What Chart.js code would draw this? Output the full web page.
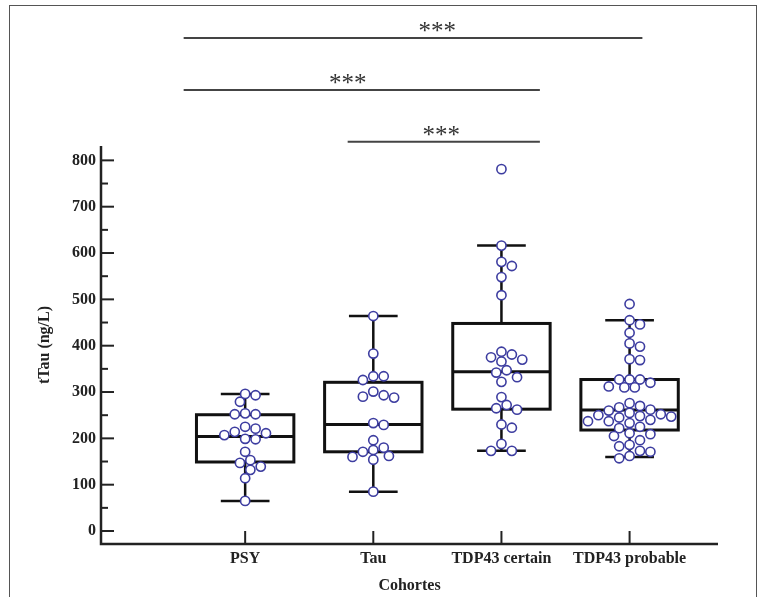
<!DOCTYPE html>
<html>
<head>
<meta charset="utf-8">
<script src="https://cdn.jsdelivr.net/npm/chart.js@4.4.0/dist/chart.umd.min.js"></script>
<style>
  html, body { margin: 0; padding: 0; background: #fff; }
  #wrap { position: relative; width: 769px; height: 597px; overflow: hidden; }
  #frame { position: absolute; left: 9px; top: 5px; width: 746px; height: 640px; border: 1.5px solid #555; }
  #boxChart { position: absolute; left: 0; top: 0; }
</style>
</head>
<body>
<div id="wrap">
  <div id="frame"></div>
  <canvas id="boxChart" width="769" height="597"></canvas>
</div>
<script>
const categories = ['PSY', 'Tau', 'TDP43 certain', 'TDP43 probable'];

const psyValues = [296, 293, 279, 254, 252, 252, 225, 221, 214, 211, 207, 199, 198, 171, 153, 147, 139, 132, 114, 65];
const tauValues = [464, 383, 334, 334, 326, 301, 293, 290, 288, 233, 229, 196, 180, 175, 171, 162, 160, 154, 85];
const tdpCertainValues = [781, 616, 581, 572, 548, 509, 387, 381, 375, 370, 366, 347, 342, 332, 322, 289, 272, 265, 262, 230, 223, 188, 173, 173];
const tdpProbableValues = [490, 455, 446, 428, 405, 398, 371, 369, 327, 327, 327, 320, 312, 310, 310, 276, 270, 267, 262, 260, 255, 252, 250, 248, 247, 245, 240, 237, 237, 233, 225, 222, 211, 209, 205, 196, 186, 183, 173, 171, 162, 157];

// box statistics per cohort
const whiskerLow = [65, 85, 173, 160];
const quartile1 = [149, 171, 263, 218];
const medians = [204, 230, 344, 261];
const quartile3 = [251, 321, 448, 327];
const whiskerHigh = [296, 464, 616, 455];

const yTickValues = [0, 100, 200, 300, 400, 500, 600, 700, 800];
const yMinorTicks = [50, 150, 250, 350, 450, 550, 650, 750];

// significance brackets (x in cohort units, level in ng/L)
const bracketFrom = [0.52, 0.52, 1.8];
const bracketTo = [4.1, 3.3, 3.3];
const bracketStarX = [2.5, 1.8, 2.53];
const bracketLevel = [1064, 952, 840];
const bracketLabels = ['***', '***', '***'];

const groups = [psyValues, tauValues, tdpCertainValues, tdpProbableValues];

const BOX_HALF = 0.38;
const CAP_HALF = 0.19;
const AXIS_COLOR = '#222';
const fontFamily = "'Liberation Serif', 'Times New Roman', serif";

const boxPlugin = {
  id: 'boxes',
  beforeDatasetsDraw(chart) {
    const {ctx, chartArea, scales: {x, y}} = chart;
    ctx.save();

    // axes lines
    ctx.strokeStyle = AXIS_COLOR;
    ctx.lineWidth = 2.5;
    ctx.beginPath();
    ctx.moveTo(chartArea.left, chartArea.top);
    ctx.lineTo(chartArea.left, chartArea.bottom);
    ctx.lineTo(chartArea.right, chartArea.bottom);
    ctx.stroke();

    // tick marks pointing inward
    ctx.lineWidth = 2;
    yTickValues.forEach(v => {
      const py = y.getPixelForValue(v);
      ctx.beginPath();
      ctx.moveTo(chartArea.left, py);
      ctx.lineTo(chartArea.left + 13, py);
      ctx.stroke();
    });
    yMinorTicks.forEach(v => {
      const py = y.getPixelForValue(v);
      ctx.beginPath();
      ctx.moveTo(chartArea.left, py);
      ctx.lineTo(chartArea.left + 7, py);
      ctx.stroke();
    });
    categories.forEach((c, i) => {
      const px = x.getPixelForValue(i + 1);
      ctx.beginPath();
      ctx.moveTo(px, chartArea.bottom);
      ctx.lineTo(px, chartArea.bottom - 13);
      ctx.stroke();
    });

    // boxes and whiskers
    ctx.strokeStyle = '#111';
    categories.forEach((c, i) => {
      const cx = x.getPixelForValue(i + 1);
      const half = x.getPixelForValue(i + 1 + BOX_HALF) - cx;
      const cap = x.getPixelForValue(i + 1 + CAP_HALF) - cx;
      const yLo = y.getPixelForValue(whiskerLow[i]);
      const yQ1 = y.getPixelForValue(quartile1[i]);
      const yMed = y.getPixelForValue(medians[i]);
      const yQ3 = y.getPixelForValue(quartile3[i]);
      const yHi = y.getPixelForValue(whiskerHigh[i]);

      ctx.lineWidth = 2.5;
      ctx.beginPath();
      ctx.moveTo(cx, yQ1); ctx.lineTo(cx, yLo);
      ctx.moveTo(cx - cap, yLo); ctx.lineTo(cx + cap, yLo);
      ctx.moveTo(cx, yQ3); ctx.lineTo(cx, yHi);
      ctx.moveTo(cx - cap, yHi); ctx.lineTo(cx + cap, yHi);
      ctx.stroke();

      ctx.lineWidth = 3;
      ctx.strokeRect(cx - half, yQ3, half * 2, yQ1 - yQ3);
      ctx.beginPath();
      ctx.moveTo(cx - half, yMed); ctx.lineTo(cx + half, yMed);
      ctx.stroke();
    });
    ctx.restore();
  },
  afterDraw(chart) {
    const {ctx, scales: {x, y}} = chart;
    ctx.save();
    ctx.strokeStyle = '#444';
    ctx.lineWidth = 2;
    ctx.fillStyle = '#333';
    ctx.font = '25px ' + fontFamily;
    ctx.textAlign = 'center';
    ctx.textBaseline = 'alphabetic';
    bracketLevel.forEach((lvl, i) => {
      const py = y.getPixelForValue(lvl);
      ctx.beginPath();
      ctx.moveTo(x.getPixelForValue(bracketFrom[i]), py);
      ctx.lineTo(x.getPixelForValue(bracketTo[i]), py);
      ctx.stroke();
      ctx.fillText(bracketLabels[i], x.getPixelForValue(bracketStarX[i]), py + 1);
    });
    ctx.restore();
  }
};

const ctx = document.getElementById('boxChart').getContext('2d');
const boxChart = new Chart(ctx, {
  type: 'scatter',
  data: {
    datasets: groups.map((vals, i) => ({
      label: categories[i],
      data: vals.map(v => ({x: i + 1, y: v})),
      pointRadius: 4.6,
      pointBorderWidth: 1.6,
      pointBorderColor: '#3d3da0',
      pointBackgroundColor: '#ffffff',
      pointHoverRadius: 4.6,
    }))
  },
  options: {
    responsive: false,
    animation: false,
    layout: {
      padding: {top: 146, right: 51, bottom: 0, left: 0}
    },
    plugins: {
      legend: { display: false },
      tooltip: { enabled: false },
    },
    scales: {
      x: {
        type: 'linear',
        min: -0.125,
        max: 4.69,
        grid: { display: false, drawTicks: false },
        border: { display: false },
        afterBuildTicks: (scale) => {
          scale.ticks = categories.map((c, i) => ({value: i + 1}));
        },
        afterFit: (scale) => { scale.height = 53; },
        ticks: {
          padding: 5,
          color: '#222',
          font: { family: fontFamily, size: 16, weight: 'bold' },
          callback: (value) => categories[value - 1],
        },
        title: {
          display: true,
          text: 'Cohortes',
          color: '#222',
          font: { family: fontFamily, size: 16, weight: 'bold' },
          padding: { top: 0, bottom: 2 },
        },
      },
      y: {
        min: -28,
        max: 831,
        grid: { display: false, drawTicks: false },
        border: { display: false },
        afterBuildTicks: (scale) => {
          scale.ticks = yTickValues.map(v => ({value: v}));
        },
        afterFit: (scale) => { scale.width = 101; },
        ticks: {
          padding: 5,
          color: '#222',
          font: { family: fontFamily, size: 16, weight: 'bold' },
        },
        title: {
          display: true,
          text: 'tTau (ng/L)',
          color: '#222',
          font: { family: fontFamily, size: 16, weight: 'bold' },
          padding: { top: 35, bottom: 0 },
        },
      },
    },
  },
  plugins: [boxPlugin],
});

// spread the points sideways so the circles do not overlap too much (beeswarm)
function swarm(chart) {
  const xs = chart.scales.x, ys = chart.scales.y;
  const pxPerUnit = xs.getPixelForValue(1) - xs.getPixelForValue(0);
  const dia = 9.4, step = 5.2;
  chart.data.datasets.forEach((ds, i) => {
    const placed = [];
    const sorted = groups[i].slice().sort((a, b) => b - a);
    ds.data = sorted.map(v => {
      const py = ys.getPixelForValue(v);
      let off = 0;
      for (let k = 0; k < 40; k++) {
        off = (k % 2 ? 1 : -1) * Math.ceil(k / 2) * step;
        const ok = placed.every(p => (p.dx - off) ** 2 + (p.py - py) ** 2 >= dia * dia);
        if (ok) break;
      }
      placed.push({dx: off, py});
      return {x: i + 1 + off / pxPerUnit, y: v};
    });
  });
  chart.update('none');
}
swarm(boxChart);
</script>
</body>
</html>
